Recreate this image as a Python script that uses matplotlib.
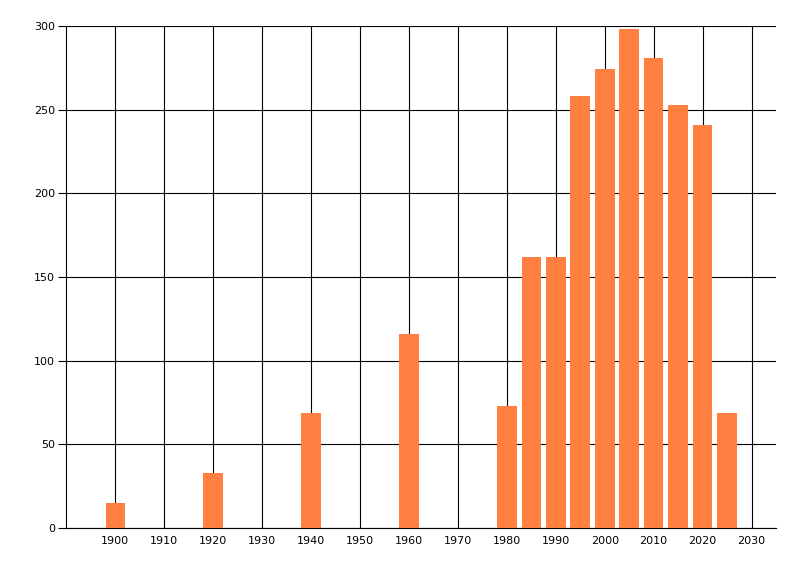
import matplotlib
matplotlib.use("Agg")
import matplotlib.pyplot as plt

# bar data
years = [1900, 1920, 1940, 1960, 1980, 1985, 1990, 1995, 2000, 2005, 2010, 2015, 2020, 2025]
counts = [15, 33, 69, 116, 73, 162, 162, 258, 274, 298, 281, 253, 241, 69]
x_ticks = list(range(1900, 2031, 10))
y_ticks = list(range(0, 301, 50))

fig = plt.figure(figsize=(8, 5.76), dpi=100)
ax = fig.add_axes([0.083, 0.0833, 0.887, 0.8716])

ax.bar(years, counts, width=4, color="#FF8040", zorder=3)

ax.set_xlim(1890, 2035)
ax.set_ylim(0, 300)
ax.set_xticks(x_ticks)
ax.set_yticks(y_ticks)

# black grid behind the bars
ax.grid(True, color="black", linewidth=0.8, zorder=0)
ax.set_axisbelow(True)

for side in ["top", "right"]:
    ax.spines[side].set_visible(False)
for side in ["left", "bottom"]:
    ax.spines[side].set_linewidth(0.8)

ax.tick_params(axis="x", length=0, pad=6, labelsize=8)
ax.tick_params(axis="y", length=6, width=0.8, pad=2, labelsize=8)

plt.savefig("out.png", dpi=100)
